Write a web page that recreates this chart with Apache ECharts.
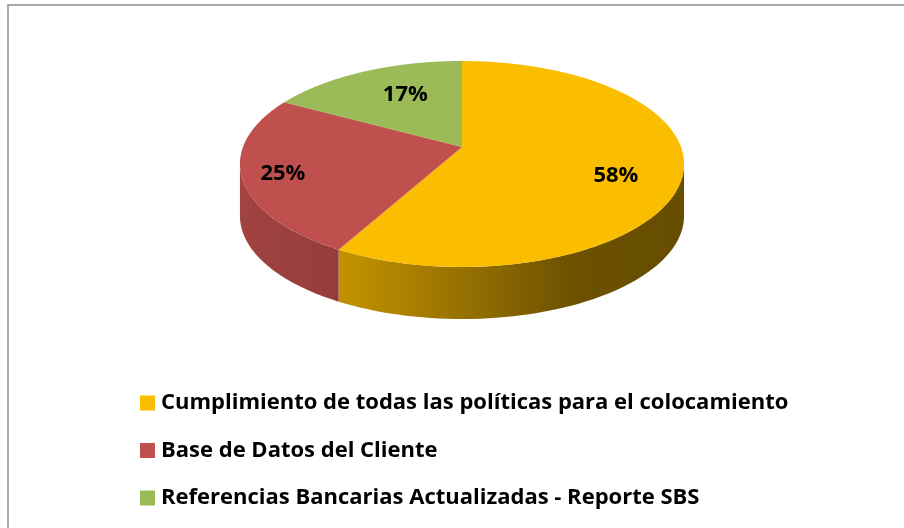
<!DOCTYPE html>
<html>
<head>
<meta charset="utf-8">
<script src="https://cdn.jsdelivr.net/npm/echarts@6/dist/echarts.min.js"></script>
<style>html,body{margin:0;padding:0;background:#fff;}#chart{width:904px;height:528px;}</style>
</head>
<body>
<div id="chart"></div>
<script>
const categories = [
  'Cumplimiento de todas las políticas para el colocamiento',
  'Base de Datos del Cliente',
  'Referencias Bancarias Actualizadas - Reporte SBS'
];
const values = [58, 25, 17];
const labels = ['58%', '25%', '17%'];
const colors = ['#FABD00', '#C0504D', '#9BBB59'];

const total = values.reduce((s, v) => s + v, 0);
const starts = [];
let acc = 0;
values.forEach(v => { starts.push(acc / total); acc += v; });

// geometry (style)
const CX = 462, CY = 147, A = 219, B = 100.2, K = 0.165, H = 52;
const LABEL_R = 0.74;
const LABEL_SHIFT = [[-8, 10], [-18, 5], [18, 5]];

function proj(r, phi) {
  const u = r * Math.sin(phi), v = -r * Math.cos(phi);
  const d = 1 - K * v;
  return [CX + A * u / d, CY + B * v / d];
}
function hexToRgb(h) {
  return [parseInt(h.slice(1,3),16), parseInt(h.slice(3,5),16), parseInt(h.slice(5,7),16)];
}
function shade(h, f) {
  const c = hexToRgb(h).map(x => Math.round(x * f));
  return 'rgb(' + c.join(',') + ')';
}

function renderItem(params, api) {
  const idx = params.seriesIndex;
  const color = colors[idx];
  const s = api.value(1) * Math.PI * 2;
  const e = api.value(2) * Math.PI * 2;
  const children = [];
  // side wall
  const p1 = Math.acos(-K), p2 = Math.PI * 2 - Math.acos(-K);
  const ss = Math.max(s, p1), ee = Math.min(e, p2);
  if (ee > ss) {
    const pts = [];
    const n = 60;
    for (let i = 0; i <= n; i++) pts.push(proj(1, ss + (ee - ss) * i / n));
    for (let i = n; i >= 0; i--) { const p = proj(1, ss + (ee - ss) * i / n); pts.push([p[0], p[1] + H]); }
    children.push({
      type: 'polygon', shape: { points: pts },
      style: { fill: new echarts.graphic.LinearGradient(240, 0, 685, 0, [
        { offset: 0, color: shade(color, 0.84) },
        { offset: 0.25, color: shade(color, 0.76) },
        { offset: 0.5, color: shade(color, 0.6) },
        { offset: 0.75, color: shade(color, 0.43) },
        { offset: 1, color: shade(color, 0.41) }
      ], true) }
    });
  }
  // top face
  const top = [[CX, CY]];
  const n2 = 120;
  for (let i = 0; i <= n2; i++) top.push(proj(1, s + (e - s) * i / n2));
  children.push({ type: 'polygon', shape: { points: top }, style: { fill: color } });
  // label
  const lp = proj(LABEL_R, (s + e) / 2);
  children.push({
    type: 'text', z2: 10,
    style: { x: lp[0] + LABEL_SHIFT[idx][0], y: lp[1] + LABEL_SHIFT[idx][1], text: labels[idx],
      fill: '#000', font: 'bold 22px "Open Sans"', align: 'center', verticalAlign: 'middle' }
  });
  return { type: 'group', children };
}

const series = categories.map((name, i) => ({
  type: 'custom',
  name: name,
  coordinateSystem: 'none',
  renderItem: renderItem,
  itemStyle: { color: colors[i] },
  data: [[values[i], starts[i], starts[i] + values[i] / total]],
  silent: true
}));

const chart = echarts.init(document.getElementById('chart'), null, { renderer: 'canvas' });
chart.setOption({
  animation: false,
  backgroundColor: '#fff',
  graphic: [{
    type: 'rect', shape: { x: 8, y: 5, width: 1000, height: 700 },
    style: { fill: 'none', stroke: '#8f8f8f', lineWidth: 1.5 }, z: -10
  }],
  legend: {
    orient: 'vertical', left: 140, top: 391, padding: 0,
    itemWidth: 15, itemHeight: 15, itemGap: 23.5,
    icon: 'rect',
    data: categories,
    textStyle: { fontFamily: 'Open Sans', fontWeight: 'bold', fontSize: 22, color: '#000', lineHeight: 24, padding: [0,0,0,1] }
  },
  series: series
});
</script>
</body>
</html>
